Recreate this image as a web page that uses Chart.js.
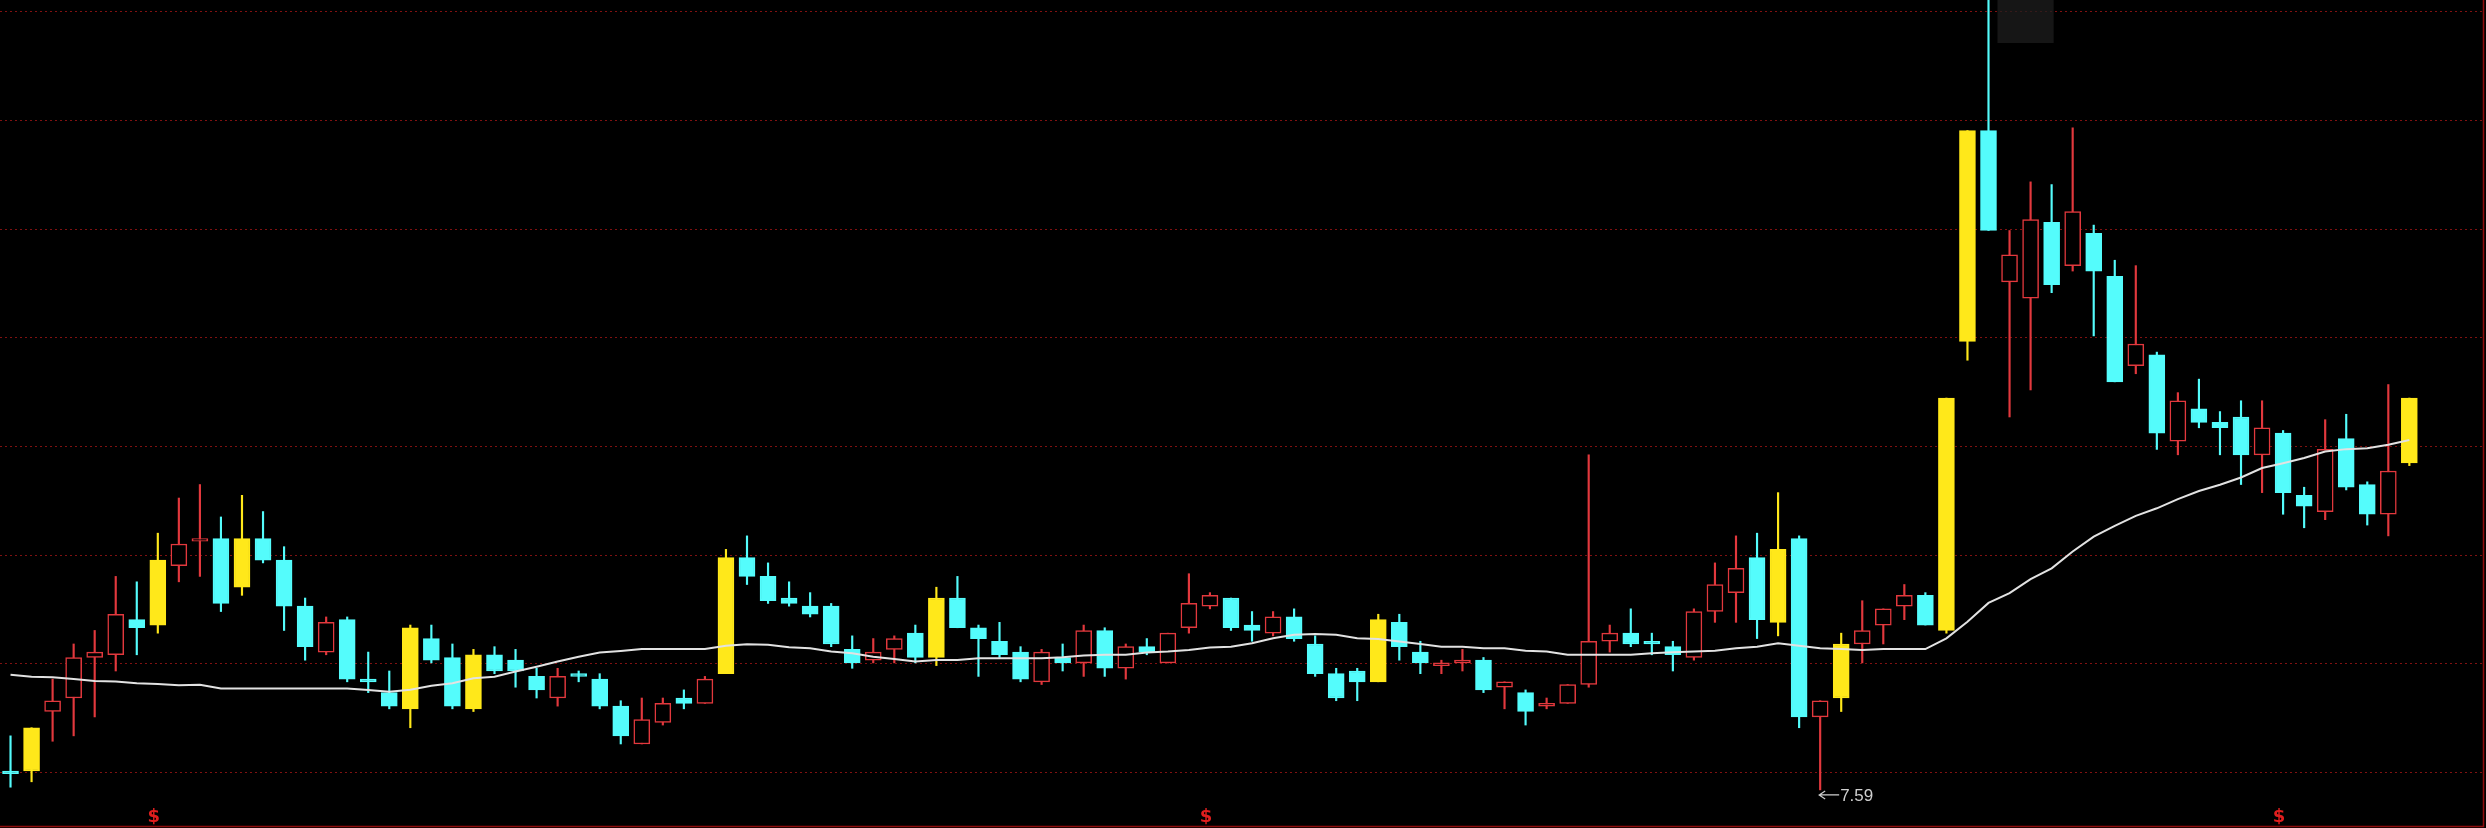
<!DOCTYPE html>
<html>
<head>
<meta charset="UTF-8">
<title>K线</title>
<script src="https://cdn.jsdelivr.net/npm/chart.js@4.4.1/dist/chart.umd.min.js"></script>
<style>
  body { margin: 0; background: #000; }
  #wrap { width: 2486px; height: 828px; position: relative; }
</style>
</head>
<body>
<div id="wrap"><canvas id="kline"></canvas></div>
<script>
// daily candles, oldest first
const opens  = [7.66,7.66,7.88,7.93,8.08,8.09,8.22,8.20,8.42,8.51, 8.52,8.34,8.52,8.44,8.27,8.10,8.22,8.00,7.95,7.89,
                8.15,8.08,7.89,8.09,8.07,8.01,7.93,8.02,8.00,7.90, 7.76,7.84,7.93,7.91,8.02,8.45,8.38,8.30,8.27,8.27,
                8.11,8.07,8.11,8.17,8.08,8.30,8.19,8.14,8.10,7.99, 8.08,8.06,8.18,8.04,8.12,8.06,8.19,8.27,8.30,8.20,
                8.17,8.23,8.13,8.02,8.03,7.99,8.21,8.10,8.05,8.06, 8.07,7.97,7.95,7.90,7.91,7.98,8.14,8.17,8.14,8.12,
                8.08,8.25,8.32,8.45,8.21,8.52,7.86,7.93,8.13,8.20, 8.27,8.31,8.18,9.25,10.03,9.47,9.41,9.69,9.53,9.65,
                9.49,9.16,9.20,8.88,9.00,8.95,8.97,8.83,8.91,8.68, 8.62,8.89,8.72,8.61,8.80];
const highs  = [7.79,7.82,8.00,8.13,8.18,8.38,8.36,8.54,8.67,8.72, 8.60,8.68,8.62,8.49,8.30,8.23,8.23,8.10,8.03,8.20,
                8.20,8.13,8.11,8.12,8.11,8.04,8.04,8.03,8.02,7.92, 7.93,7.93,7.96,8.01,8.48,8.53,8.43,8.36,8.32,8.28,
                8.16,8.15,8.16,8.20,8.34,8.38,8.20,8.21,8.12,8.11, 8.13,8.20,8.19,8.13,8.15,8.17,8.39,8.32,8.30,8.25,
                8.25,8.26,8.16,8.04,8.04,8.24,8.24,8.14,8.07,8.11, 8.08,7.99,7.96,7.93,7.98,8.83,8.20,8.26,8.17,8.14,
                8.26,8.43,8.53,8.54,8.69,8.53,7.92,8.17,8.29,8.26, 8.35,8.32,9.04,10.03,10.60,9.66,9.84,9.83,10.04,9.68,
                9.55,9.53,9.21,9.06,9.11,8.99,9.03,9.03,8.92,8.71, 8.96,8.98,8.73,9.09,9.04];
const lows   = [7.60,7.62,7.77,7.79,7.86,8.03,8.09,8.17,8.36,8.38, 8.25,8.31,8.43,8.18,8.07,8.09,7.99,7.95,7.89,7.82,
                8.06,7.89,7.88,8.02,7.97,7.93,7.90,7.99,7.89,7.76, 7.76,7.83,7.89,7.91,8.02,8.35,8.28,8.27,8.23,8.12,
                8.04,8.06,8.06,8.06,8.05,8.19,8.01,8.08,7.99,7.98, 8.03,8.01,8.01,8.00,8.09,8.06,8.17,8.26,8.18,8.14,
                8.16,8.14,8.01,7.92,7.92,7.99,8.07,8.02,8.02,8.03, 7.95,7.89,7.83,7.89,7.91,7.97,8.10,8.12,8.09,8.03,
                8.07,8.21,8.21,8.15,8.16,7.82,7.59,7.88,8.06,8.13, 8.22,8.20,8.17,9.18,9.66,8.97,9.07,9.43,9.51,9.27,
                9.10,9.13,8.85,8.83,8.93,8.83,8.72,8.69,8.61,8.56, 8.59,8.70,8.57,8.53,8.79];
const closes = [7.65,7.82,7.92,8.08,8.10,8.24,8.19,8.44,8.50,8.52, 8.28,8.52,8.44,8.27,8.12,8.21,8.00,7.99,7.90,8.19,
                8.07,7.90,8.09,8.03,8.03,7.96,8.01,8.01,7.90,7.79, 7.85,7.91,7.91,8.00,8.45,8.38,8.29,8.28,8.24,8.13,
                8.06,8.10,8.15,8.08,8.30,8.19,8.15,8.09,8.00,8.10, 8.06,8.18,8.04,8.12,8.10,8.17,8.28,8.31,8.19,8.18,
                8.23,8.15,8.02,7.93,7.99,8.22,8.12,8.06,8.06,8.07, 7.96,7.99,7.88,7.91,7.98,8.14,8.17,8.13,8.13,8.09,
                8.25,8.35,8.41,8.22,8.48,7.86,7.92,8.13,8.18,8.26, 8.31,8.20,9.04,10.03,9.66,9.57,9.70,9.46,9.73,9.51,
                9.10,9.24,8.91,9.03,8.95,8.93,8.83,8.93,8.69,8.64, 8.85,8.71,8.61,8.77,9.04];
// moving average line
const ma = [8.016,8.009,8.007,8.000,7.993,7.991,7.985,7.982,7.977,7.979, 7.965,7.965,7.965,7.965,7.965,7.965,7.965,7.960,7.953,7.961,
            7.975,7.985,8.003,8.009,8.028,8.046,8.065,8.083,8.098,8.104, 8.111,8.111,8.111,8.111,8.123,8.129,8.127,8.118,8.114,8.102,
            8.096,8.083,8.074,8.065,8.071,8.071,8.077,8.077,8.077,8.077, 8.081,8.087,8.090,8.090,8.098,8.102,8.108,8.117,8.120,8.133,
            8.151,8.164,8.167,8.164,8.151,8.148,8.139,8.130,8.120,8.120, 8.114,8.114,8.105,8.102,8.090,8.090,8.090,8.090,8.096,8.099,
            8.102,8.105,8.114,8.120,8.133,8.123,8.114,8.111,8.108,8.111, 8.111,8.111,8.151,8.212,8.282,8.318,8.370,8.410,8.472,8.527,
            8.567,8.604,8.632,8.666,8.696,8.719,8.746,8.781,8.799,8.818, 8.842,8.851,8.854,8.867,8.885];
// days painted yellow (strong rises)
const strongDays = [1, 7, 11, 19, 22, 34, 44, 65, 84, 87, 92, 93, 114];
// days with a "$" flag under the chart
const flagDays = [7, 57, 108];
const lowDay = 86;
const gridLevels = [7.655, 8.057, 8.459, 8.861, 9.263, 9.665, 10.067, 10.469];

const SLOTS = 118;  // 3 empty slots at the right end
const labels = Array.from({length: SLOTS}, (_, i) => String(i + 1));

const UP = '#E2383D', DOWN = '#54FCFC', STRONG = '#FFE81A';
const kinds = opens.map((o, i) =>
  strongDays.includes(i) ? 'strong' : (closes[i] >= o ? 'up' : 'down'));
const lineCol = k => k === 'up' ? UP : k === 'down' ? DOWN : STRONG;
const fillCol = k => k === 'up' ? '#000' : lineCol(k);

const extras = {
  id: 'extras',
  afterDraw(chart) {
    const {ctx, chartArea, scales: {x, y}} = chart;
    ctx.save();
    // frame on the right and bottom
    ctx.strokeStyle = '#8e0c0c';
    ctx.lineWidth = 1.5;
    ctx.beginPath();
    ctx.moveTo(chartArea.right + 0.5, 0);
    ctx.lineTo(chartArea.right + 0.5, chartArea.bottom - 1.5);
    ctx.lineTo(0, chartArea.bottom - 1.5);
    ctx.stroke();

    // dim box near the top
    ctx.fillStyle = 'rgba(30,30,30,0.75)';
    const bx = x.getPixelForValue(94) + 9;
    ctx.fillRect(bx, 0, x.getPixelForValue(97) + 2 - bx, 43);

    // lowest price label: arrow + value
    const lx = x.getPixelForValue(lowDay) - 1;
    const ly = y.getPixelForValue(lows[lowDay]) + 5;
    ctx.strokeStyle = '#cfcfcf';
    ctx.fillStyle = '#cfcfcf';
    ctx.lineWidth = 1.2;
    ctx.beginPath();
    ctx.moveTo(lx, ly); ctx.lineTo(lx + 20, ly);
    ctx.moveTo(lx + 6, ly - 4); ctx.lineTo(lx, ly); ctx.lineTo(lx + 6, ly + 4);
    ctx.stroke();
    ctx.font = '17px "Liberation Sans", "DejaVu Sans", sans-serif';
    ctx.textAlign = 'left';
    ctx.textBaseline = 'middle';
    ctx.fillText(lows[lowDay].toFixed(2), lx + 21, ly + 1);

    // flags
    ctx.fillStyle = '#e01e1e';
    ctx.font = 'bold 18px "DejaVu Sans", sans-serif';
    ctx.textAlign = 'center';
    ctx.textBaseline = 'bottom';
    flagDays.forEach(d => ctx.fillText('$', x.getPixelForValue(d) - 4, chartArea.bottom - 2));
    ctx.restore();
  }
};

new Chart(document.getElementById('kline'), {
  type: 'bar',
  data: {
    labels: labels,
    datasets: [
      {
        type: 'line',
        label: 'MA',
        data: ma,
        borderColor: '#e2e2e2',
        borderWidth: 2,
        pointRadius: 0,
        tension: 0,
        order: 0
      },
      {
        label: 'body',
        data: opens.map((o, i) => [o, closes[i]]),
        backgroundColor: kinds.map(fillCol),
        borderColor: kinds.map(lineCol),
        borderWidth: 1.5,
        borderSkipped: false,
        barThickness: 16,
        minBarLength: 2,
        grouped: false,
        order: 1
      },
      {
        label: 'wick',
        data: lows.map((l, i) => [l, highs[i]]),
        backgroundColor: kinds.map(lineCol),
        borderWidth: 0,
        barThickness: 1.5,
        grouped: false,
        order: 2
      }
    ]
  },
  options: {
    responsive: true,
    maintainAspectRatio: false,
    animation: false,
    events: [],
    layout: { padding: { right: 3 }, autoPadding: false },
    plugins: { legend: { display: false }, tooltip: { enabled: false } },
    scales: {
      x: { display: false, offset: true },
      y: {
        min: 7.449,
        max: 10.513,
        afterBuildTicks: scale => { scale.ticks = gridLevels.map(v => ({ value: v })); },
        ticks: { display: false },
        grid: { color: 'rgba(150,20,20,0.85)', lineWidth: 1, drawTicks: false },
        border: { display: false, dash: [2, 3] }
      }
    }
  },
  plugins: [extras]
});
</script>
</body>
</html>
